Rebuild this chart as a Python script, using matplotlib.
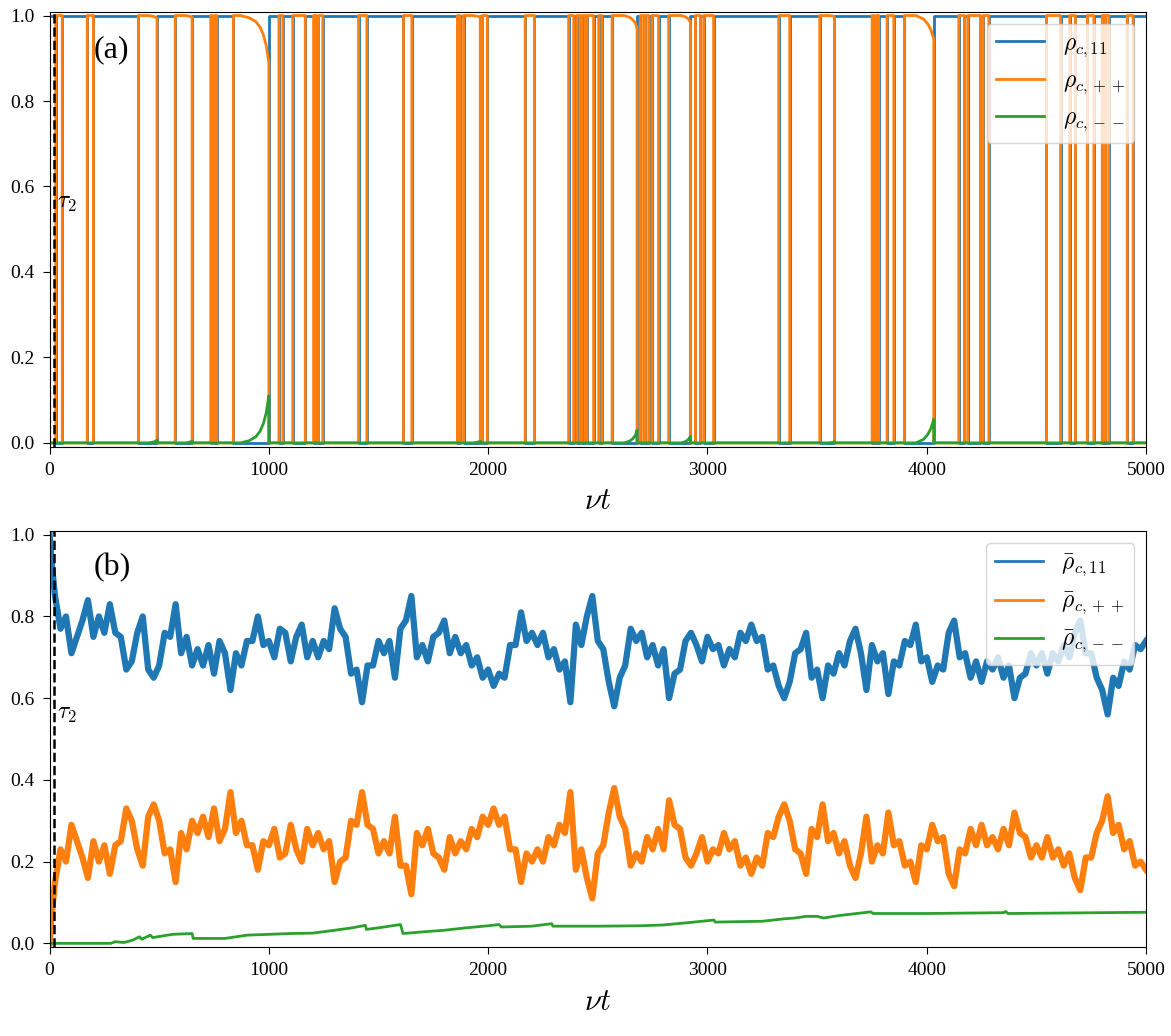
import matplotlib
matplotlib.use('Agg')
import matplotlib.pyplot as plt
import numpy as np

plt.rcParams['font.family'] = 'serif'
plt.rcParams['font.serif'] = ['Liberation Serif', 'DejaVu Serif']
plt.rcParams['mathtext.fontset'] = 'cm'

tau2 = 20

# single trajectory: intervals spent in |++> (jump in at pulse_on, out at pulse_off)
pulse_on = [28, 172, 405, 573, 735, 752, 838, 1046, 1109, 1204,
            1226, 1409, 1614, 1860, 1888, 1974, 2169, 2367, 2405, 2428,
            2451, 2504, 2565, 2694, 2717, 2747, 2823, 2945, 2983, 3325,
            3512, 3751, 3770, 3819, 3898, 4146, 4187, 4257, 4546, 4652,
            4732, 4800, 4815, 4914]
pulse_off = [58, 200, 490, 650, 742, 763, 1000, 1064, 1166, 1216,
             1246, 1447, 1652, 1872, 1964, 1996, 2211, 2390, 2420, 2443,
             2481, 2519, 2679, 2709, 2732, 2777, 2922, 2968, 3028, 3375,
             3579, 3760, 3781, 3850, 4032, 4172, 4245, 4283, 4610, 4678,
             4762, 4808, 4830, 4941]

# leakage into |--> at the end of the long |++> dwells
rise_end = [490, 650, 1000, 1964, 2679, 2922, 3579, 4032]
rise_t = [[450, 475, 490],
          [620, 640, 650],
          [870, 910, 940, 960, 975, 988, 1000],
          [1930, 1955, 1964],
          [2620, 2645, 2660, 2672, 2679],
          [2880, 2900, 2913, 2922],
          [3550, 3570, 3579],
          [3950, 3985, 4005, 4020, 4032]]
rise_v = [[0.0, 0.002, 0.006],
          [0.0, 0.002, 0.004],
          [0.0, 0.005, 0.014, 0.027, 0.045, 0.07, 0.11],
          [0.0, 0.002, 0.004],
          [0.0, 0.004, 0.01, 0.018, 0.03],
          [0.0, 0.003, 0.008, 0.015],
          [0.0, 0.001, 0.003],
          [0.0, 0.008, 0.02, 0.035, 0.055]]

# ensemble averages
bar_t = [0, 10] + list(range(25, 5001, 25))
bar_11 = [1.00, 0.93,
          0.85, 0.77, 0.80, 0.71, 0.75, 0.79, 0.84, 0.75, 0.80, 0.76,
          0.83, 0.76, 0.75, 0.67, 0.69, 0.76, 0.80, 0.67, 0.65, 0.68,
          0.76, 0.75, 0.83, 0.71, 0.75, 0.68, 0.72, 0.68, 0.73, 0.66,
          0.74, 0.71, 0.62, 0.71, 0.68, 0.74, 0.74, 0.80, 0.73, 0.74,
          0.70, 0.77, 0.76, 0.69, 0.75, 0.78, 0.70, 0.74, 0.70, 0.74,
          0.72, 0.82, 0.77, 0.75, 0.66, 0.67, 0.59, 0.68, 0.68, 0.74,
          0.71, 0.74, 0.65, 0.77, 0.79, 0.85, 0.70, 0.73, 0.69, 0.75,
          0.76, 0.79, 0.71, 0.75, 0.71, 0.73, 0.68, 0.70, 0.65, 0.67,
          0.63, 0.66, 0.65, 0.73, 0.73, 0.81, 0.74, 0.76, 0.73, 0.76,
          0.70, 0.72, 0.67, 0.69, 0.59, 0.78, 0.73, 0.80, 0.85, 0.74,
          0.72, 0.64, 0.58, 0.65, 0.68, 0.77, 0.74, 0.76, 0.70, 0.73,
          0.68, 0.72, 0.60, 0.66, 0.67, 0.74, 0.76, 0.73, 0.69, 0.75,
          0.72, 0.73, 0.68, 0.72, 0.70, 0.76, 0.74, 0.78, 0.74, 0.75,
          0.67, 0.68, 0.63, 0.60, 0.64, 0.71, 0.72, 0.76, 0.65, 0.67,
          0.60, 0.68, 0.66, 0.71, 0.68, 0.74, 0.77, 0.71, 0.62, 0.73,
          0.69, 0.71, 0.61, 0.69, 0.68, 0.74, 0.73, 0.78, 0.69, 0.70,
          0.64, 0.68, 0.67, 0.76, 0.79, 0.70, 0.71, 0.65, 0.69, 0.64,
          0.69, 0.67, 0.70, 0.65, 0.68, 0.60, 0.65, 0.66, 0.71, 0.68,
          0.71, 0.66, 0.71, 0.69, 0.73, 0.70, 0.76, 0.79, 0.71, 0.71,
          0.65, 0.62, 0.56, 0.65, 0.63, 0.69, 0.67, 0.73, 0.72, 0.74]
bar_pp = [0.00, 0.07,
          0.15, 0.23, 0.20, 0.29, 0.25, 0.21, 0.16, 0.25, 0.20, 0.24,
          0.17, 0.24, 0.25, 0.33, 0.30, 0.23, 0.19, 0.31, 0.34, 0.30,
          0.22, 0.23, 0.15, 0.27, 0.23, 0.30, 0.27, 0.31, 0.26, 0.33,
          0.25, 0.28, 0.37, 0.27, 0.30, 0.24, 0.24, 0.18, 0.25, 0.24,
          0.28, 0.21, 0.22, 0.29, 0.23, 0.20, 0.28, 0.24, 0.27, 0.23,
          0.25, 0.15, 0.20, 0.21, 0.30, 0.29, 0.37, 0.29, 0.28, 0.22,
          0.25, 0.22, 0.31, 0.19, 0.19, 0.12, 0.27, 0.24, 0.28, 0.22,
          0.21, 0.18, 0.26, 0.22, 0.25, 0.23, 0.28, 0.26, 0.31, 0.29,
          0.33, 0.29, 0.31, 0.23, 0.23, 0.15, 0.22, 0.20, 0.23, 0.20,
          0.26, 0.24, 0.29, 0.27, 0.37, 0.18, 0.23, 0.16, 0.11, 0.22,
          0.24, 0.32, 0.38, 0.31, 0.28, 0.19, 0.22, 0.20, 0.26, 0.23,
          0.28, 0.23, 0.35, 0.29, 0.28, 0.21, 0.19, 0.22, 0.26, 0.20,
          0.23, 0.22, 0.27, 0.23, 0.25, 0.19, 0.21, 0.17, 0.21, 0.19,
          0.27, 0.26, 0.31, 0.34, 0.30, 0.23, 0.22, 0.17, 0.28, 0.26,
          0.34, 0.25, 0.27, 0.22, 0.25, 0.19, 0.16, 0.22, 0.31, 0.20,
          0.24, 0.22, 0.32, 0.24, 0.25, 0.19, 0.20, 0.15, 0.24, 0.23,
          0.29, 0.25, 0.26, 0.17, 0.14, 0.23, 0.22, 0.28, 0.24, 0.29,
          0.24, 0.26, 0.23, 0.28, 0.24, 0.32, 0.27, 0.26, 0.21, 0.24,
          0.21, 0.26, 0.21, 0.23, 0.19, 0.22, 0.16, 0.13, 0.21, 0.21,
          0.27, 0.30, 0.36, 0.27, 0.29, 0.23, 0.25, 0.19, 0.20, 0.18]
mm_t = [0, 280, 300, 340, 380, 410, 420, 460, 470, 560, 650, 655, 800,
        900, 1000, 1100, 1200, 1300, 1380, 1440, 1445, 1500, 1600, 1612,
        1700, 1800, 1900, 2000, 2050, 2060, 2200, 2290, 2295, 2500, 2700,
        2800, 2900, 3030, 3035, 3250, 3350, 3400, 3450, 3500, 3530, 3600,
        3745, 3755, 4000, 4350, 4360, 4370, 5000]
bar_mm = [0.0, 0.0, 0.004, 0.002, 0.008, 0.016, 0.010, 0.020, 0.014, 0.022,
          0.024, 0.012, 0.012, 0.020, 0.022, 0.024, 0.025, 0.032, 0.038,
          0.044, 0.034, 0.038, 0.046, 0.024, 0.028, 0.032, 0.038, 0.043,
          0.046, 0.040, 0.042, 0.048, 0.042, 0.042, 0.043, 0.045, 0.050,
          0.057, 0.052, 0.054, 0.060, 0.062, 0.066, 0.066, 0.062, 0.068,
          0.077, 0.073, 0.073, 0.075, 0.078, 0.073, 0.076]

# piecewise trajectory for panel (a)
t_top, p11, ppp, pmm = [0], [1], [0], [0]
for on, off in zip(pulse_on, pulse_off):
    t_top += [on, on]
    p11 += [1, 0]
    ppp += [0, 1]
    pmm += [0, 0]
    if off in rise_end:
        k = rise_end.index(off)
        for t, g in zip(rise_t[k], rise_v[k]):
            t_top.append(t)
            p11.append(0)
            ppp.append(1 - g)
            pmm.append(g)
    else:
        t_top.append(off)
        p11.append(0)
        ppp.append(1)
        pmm.append(0)
    t_top.append(off)
    p11.append(1)
    ppp.append(0)
    pmm.append(0)
t_top.append(5000)
p11.append(1)
ppp.append(0)
pmm.append(0)

fig = plt.figure(figsize=(11.71, 10.36), dpi=100)
ax1 = fig.add_axes([0.0423, 0.5688, 0.9364, 0.4199])
ax2 = fig.add_axes([0.0423, 0.0859, 0.9364, 0.4015])

ax1.plot(t_top, p11, color='C0', lw=2, label=r'$\rho_{c,11}$')
ax1.plot(t_top, ppp, color='C1', lw=2, label=r'$\rho_{c,++}$')
ax1.plot(t_top, pmm, color='C2', lw=2, label=r'$\rho_{c,--}$')

ax2.plot(bar_t, bar_11, color='C0', lw=4.5, label=r'$\bar{\rho}_{c,11}$')
ax2.plot(bar_t, bar_pp, color='C1', lw=4.5, label=r'$\bar{\rho}_{c,++}$')
ax2.plot(mm_t, bar_mm, color='C2', lw=2, label=r'$\bar{\rho}_{c,--}$')

for ax, tag in [(ax1, '(a)'), (ax2, '(b)')]:
    ax.axvline(tau2, color='k', ls='--', lw=1.8)
    ax.text(tau2 + 15, 0.56, r'$\tau_2$', fontsize=17, va='center')
    ax.text(200, 0.92, tag, fontsize=23, va='center')
    ax.set_xlim(0, 5000)
    ax.set_ylim(-0.009, 1.009)
    ax.set_xticks([0, 1000, 2000, 3000, 4000, 5000])
    ax.set_yticks([0.0, 0.2, 0.4, 0.6, 0.8, 1.0])
    ax.tick_params(labelsize=14, length=5, pad=6)
    ax.set_xlabel(r'$\nu t$', fontsize=22, labelpad=6)
    leg = ax.legend(loc='upper right', fontsize=17)
    for line in leg.get_lines():
        line.set_linewidth(2)

fig.savefig('out.png', dpi=100)
